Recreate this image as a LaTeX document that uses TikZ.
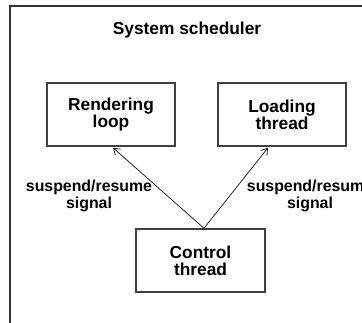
\documentclass[tikz,border=0pt]{standalone}
\usepackage{fontspec}
\setmainfont{Liberation Sans}
\usetikzlibrary{arrows.meta,calc}
\tikzset{
  frameline/.style={draw=black!80, line width=1.5pt},
  procbox/.style={draw=black!75, line width=1.1pt, fill=white, align=center,
    inner sep=0pt, minimum height=63*0.75pt,
    font=\fontsize{13pt}{12.8pt}\selectfont\bfseries},
  sigline/.style={draw=black!85, line width=0.6pt, -{Straight Barb[length=4.5pt,width=6pt]}},
  siglabel/.style={align=center, inner sep=0pt,
    font=\fontsize{11.9pt}{10.4pt}\selectfont\bfseries},
  titletext/.style={inner sep=0pt, font=\fontsize{13pt}{14pt}\selectfont\bfseries}
}
\begin{document}
\begin{tikzpicture}[x=0.75pt,y=-0.75pt]
  \useasboundingbox (0,0) rectangle (362,323);
  \begin{scope}
    \clip (0,0) rectangle (362,323);
    % enclosing scheduler frame, cut by the page edge on the right and bottom
    \draw[frameline] (10,340) -- (10,6) -- (380,6);
    \node[titletext] (title) at (187,30) {System scheduler};

    % worker and control processes
    \node[procbox, minimum width=128*0.75pt] (ren) at (111,114.5) {Rendering\\loop};
    \node[procbox, minimum width=128*0.75pt] (lod) at (282,114.5) {Loading\\thread};
    \node[procbox, minimum width=129*0.75pt] (ctl) at (200.5,260.5) {Control\\thread};

    % signals from the control thread
    \coordinate (ctltop) at ($(ctl.north)+(3.5,0)$);
    \coordinate (renhit) at ($(ren.south)+(2,1)$);
    \coordinate (lodhit) at ($(lod.south)+(-14,1)$);
    \draw[sigline] (ctltop) -- (renhit);
    \draw[sigline] (ctltop) -- (lodhit);

    \node[siglabel] (lblren) at (89,196) {suspend/resume\\signal};
    \node[siglabel] (lbllod) at (310,196) {suspend/resume\\signal};
  \end{scope}
\end{tikzpicture}
\end{document}
